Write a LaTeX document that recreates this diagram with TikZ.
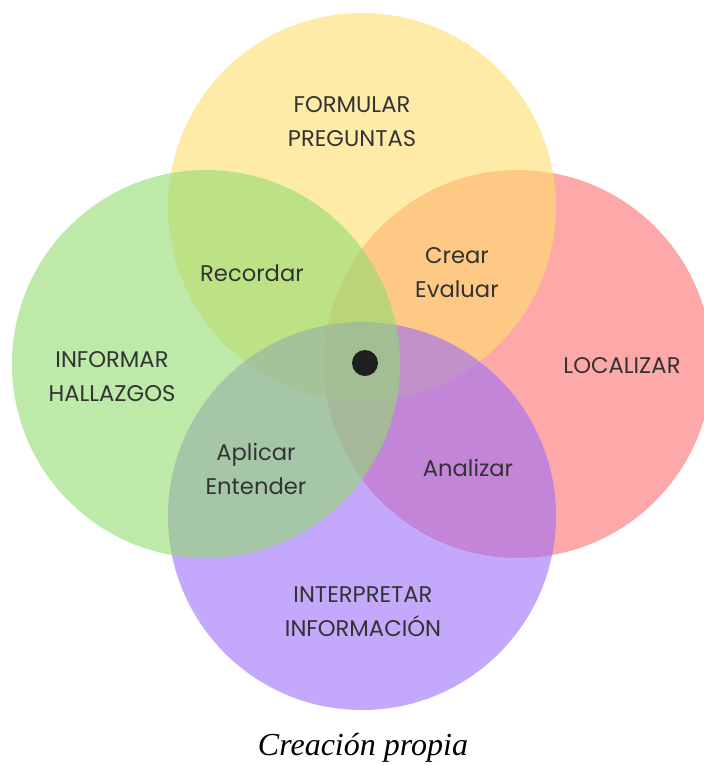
\documentclass[tikz,border=0pt]{standalone}
\usepackage{fontspec}
\setmainfont{Liberation Serif}
\newfontfamily\labelfont{Poppins}

\definecolor{lemon}{RGB}{255,222,110}
\definecolor{leaf}{RGB}{145,220,112}
\definecolor{coral}{RGB}{252,112,113}
\definecolor{lilac}{RGB}{157,110,248}
\definecolor{ink}{RGB}{51,51,51}

\begin{document}
\begin{tikzpicture}[x=0.75pt, y=-0.75pt,
    venn/.style={fill opacity=0.6},
    lbl/.style={text=ink, align=center, font=\labelfont\fontsize{17}{25.5}\selectfont}]
      \useasboundingbox (0,0) rectangle (704,765);

      % Circles
      \fill[venn, coral] (518, 364) circle[radius=145.5pt];
      \fill[venn, lemon] (362, 207) circle[radius=145.5pt];
      \fill[venn, lilac] (362, 516) circle[radius=145.5pt];
      \fill[venn, leaf]  (206, 364) circle[radius=145.5pt];

      % Centre dot
      \fill[black!88] (365, 363) circle[radius=9.75pt];

      % Outer labels
      \node[lbl] (formular) at (352, 122) {FORMULAR\\PREGUNTAS};
      \node[lbl] (informar) at (112, 377) {INFORMAR\\HALLAZGOS};
      \node[lbl] (localizar) at (622, 366) {LOCALIZAR};
      \node[lbl] (interpretar) at (363, 612) {INTERPRETAR\\INFORMACIÓN};

      % Overlap labels
      \node[lbl] (recordar) at (252, 273) {Recordar};
      \node[lbl] (crear) at (457, 273) {Crear\\Evaluar};
      \node[lbl] (aplicar) at (256, 469) {Aplicar\\Entender};
      \node[lbl] (analizar) at (468, 468) {Analizar};

      % Caption
      \node[font=\fontsize{24}{28}\selectfont\itshape] (caption) at (363, 748)
        {Creación propia};
    \end{tikzpicture}
\end{document}
